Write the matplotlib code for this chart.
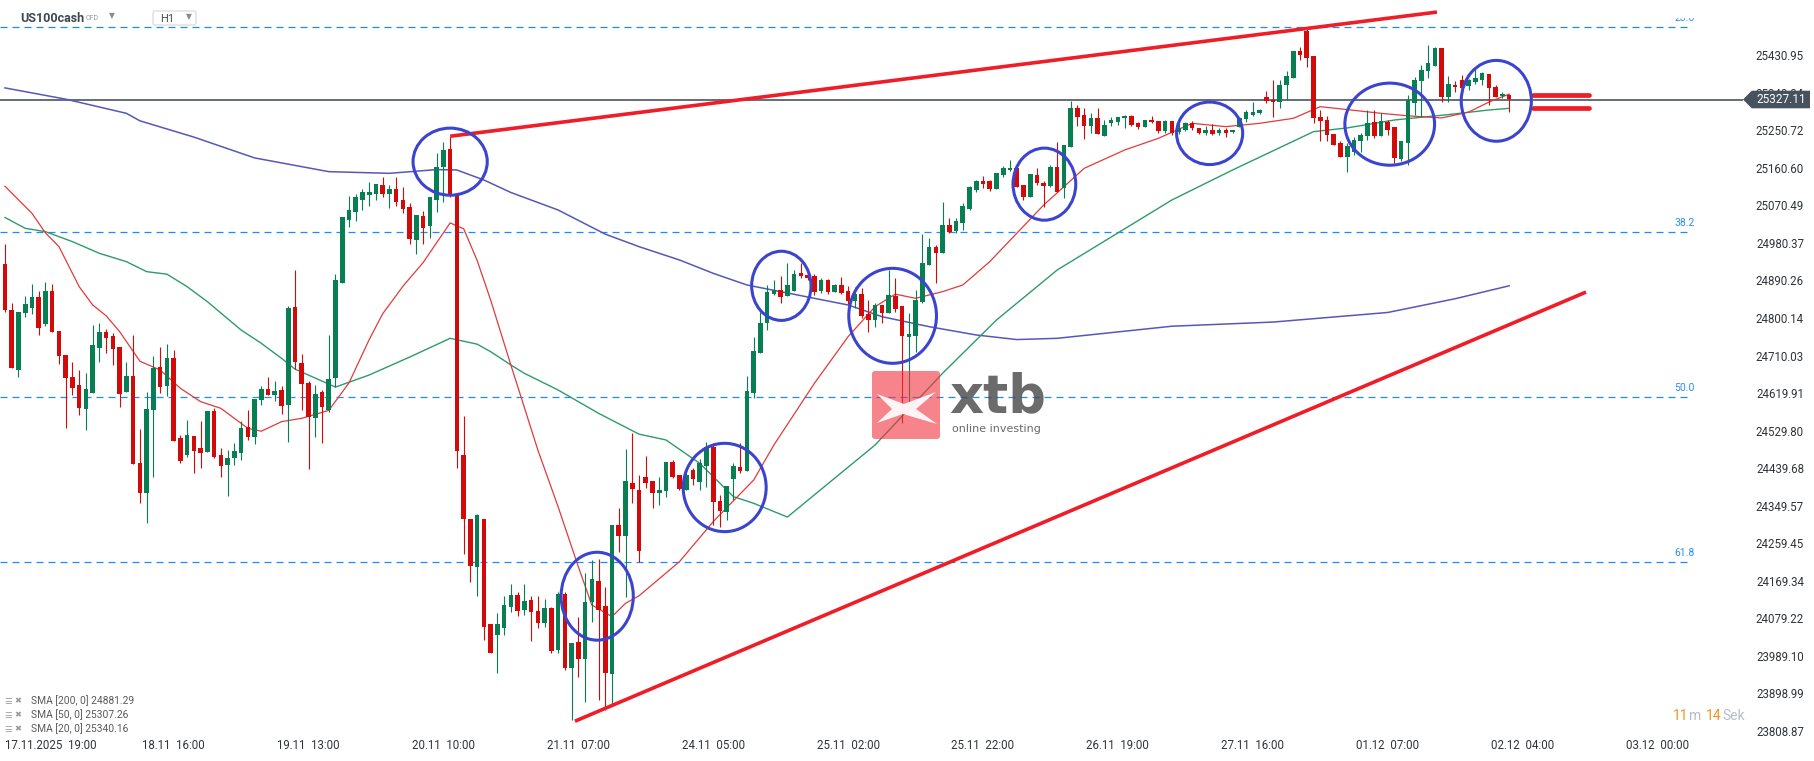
import numpy as np
import matplotlib
matplotlib.use("Agg")
import matplotlib.pyplot as plt
import matplotlib.transforms as mtransforms
from matplotlib.patches import Ellipse, Polygon, Rectangle, FancyBboxPatch

# ---- data (US100cash, H1) ----
first_bar = -5  # bar 0 = 17.11.2025 19:00

opens = [
    24933, 24824, 24680, 24816, 24828, 24854, 24790, 24868, 24772, 24715,
    24662, 24643, 24585, 24624, 24732, 24770, 24760, 24734, 24627, 24664,
    24456, 24384, 24584, 24686, 24641, 24708, 24516, 24475, 24520, 24492,
    24483, 24580, 24475, 24451, 24468, 24480, 24543, 24519, 24608, 24633,
    24619, 24631, 24595, 24830, 24696, 24648, 24563, 24627, 24582, 24660,
    24888, 25039, 25059, 25086, 25099, 25102, 25122, 25102, 25113, 25086,
    25070, 24991, 25048, 25025, 25086, 25167, 25210, 25099, 24474, 24322,
    24207, 24322, 24070, 24043, 24060, 24111, 24139, 24103, 24127, 24100,
    24071, 24108, 24007, 24141, 23963, 24026, 23985, 24121, 24173, 24113,
    23949, 24307, 24281, 24407, 24391, 24423, 24412, 24384, 24389, 24457,
    24427, 24391, 24439, 24411, 24449, 24495, 24364, 24339, 24417, 24445,
    24437, 24623, 24720, 24791, 24861, 24872, 24857, 24868, 24912, 24907,
    24905, 24868, 24895, 24867, 24883, 24868, 24845, 24861, 24813, 24799,
    24835, 24816, 24857, 24832, 24759, 24761, 24843, 24932, 24975, 24960,
    25028, 25013, 25032, 25065, 25110, 25132, 25132, 25113, 25148, 25158,
    25163, 25123, 25095, 25147, 25127, 25120, 25165, 25115, 25215, 25308,
    25291, 25264, 25283, 25241, 25272, 25274, 25283, 25288, 25271, 25263,
    25279, 25276, 25253, 25276, 25251, 25255, 25271, 25259, 25248, 25254,
    25247, 25254, 25249, 25263, 25281, 25291, 25295, 25334, 25327, 25323,
    25362, 25380, 25444, 25492, 25432, 25285, 25280, 25245, 25224, 25191,
    25203, 25228, 25240, 25273, 25241, 25274, 25261, 25185, 25224, 25320,
    25372, 25397, 25408, 25452, 25334, 25364, 25376, 25361, 25371, 25376,
    25389, 25358, 25336, 25339,
]
highs = [
    24981, 24839, 24817, 24856, 24885, 24868, 24890, 24885, 24772, 24715,
    24698, 24679, 24672, 24787, 24791, 24777, 24768, 24734, 24698, 24763,
    24537, 24625, 24712, 24734, 24741, 24727, 24523, 24559, 24520, 24556,
    24580, 24588, 24491, 24488, 24503, 24556, 24583, 24609, 24641, 24663,
    24653, 24640, 24833, 24918, 24717, 24652, 24643, 24632, 24762, 24909,
    25046, 25096, 25101, 25113, 25130, 25125, 25141, 25122, 25141, 25118,
    25080, 25050, 25060, 25094, 25200, 25225, 25238, 25099, 24569, 24322,
    24333, 24322, 24070, 24096, 24137, 24165, 24145, 24166, 24137, 24137,
    24129, 24110, 24145, 24145, 24023, 24085, 24191, 24223, 24225, 24159,
    24307, 24347, 24489, 24528, 24427, 24473, 24412, 24423, 24457, 24463,
    24427, 24439, 24443, 24465, 24505, 24503, 24379, 24400, 24455, 24503,
    24665, 24759, 24819, 24883, 24896, 24904, 24936, 24919, 24935, 24911,
    24910, 24899, 24898, 24885, 24903, 24881, 24877, 24875, 24847, 24839,
    24835, 24919, 24899, 24832, 24816, 24871, 25005, 24995, 24979, 25081,
    25044, 25044, 25079, 25120, 25135, 25144, 25136, 25151, 25169, 25184,
    25163, 25123, 25149, 25163, 25132, 25170, 25226, 25219, 25324, 25316,
    25308, 25295, 25308, 25280, 25287, 25287, 25292, 25292, 25274, 25279,
    25288, 25276, 25279, 25276, 25271, 25274, 25276, 25259, 25264, 25269,
    25259, 25259, 25256, 25287, 25303, 25321, 25306, 25348, 25375, 25375,
    25396, 25444, 25454, 25499, 25432, 25303, 25288, 25245, 25229, 25224,
    25238, 25247, 25304, 25303, 25296, 25279, 25261, 25229, 25339, 25381,
    25412, 25459, 25454, 25452, 25384, 25372, 25386, 25378, 25401, 25393,
    25389, 25362, 25346, 25341,
]
lows = [
    24818, 24684, 24663, 24807, 24813, 24763, 24785, 24771, 24694, 24539,
    24620, 24571, 24535, 24624, 24699, 24720, 24692, 24591, 24627, 24453,
    24360, 24311, 24423, 24624, 24617, 24509, 24455, 24471, 24432, 24443,
    24483, 24467, 24423, 24377, 24451, 24463, 24511, 24501, 24595, 24619,
    24605, 24574, 24506, 24681, 24582, 24441, 24519, 24503, 24577, 24638,
    24888, 25022, 25037, 25064, 25073, 25087, 25094, 25068, 25073, 25056,
    24982, 24958, 24982, 24996, 25058, 25083, 25094, 24444, 24237, 24169,
    24137, 24031, 24000, 23951, 24044, 24099, 24089, 24091, 24029, 24059,
    24061, 24000, 24000, 23960, 23839, 23941, 23883, 24075, 23887, 23863,
    23875, 24241, 24135, 24360, 24217, 24396, 24347, 24355, 24375, 24419,
    24392, 24391, 24403, 24391, 24399, 24307, 24303, 24319, 24367, 24432,
    24437, 24611, 24720, 24775, 24860, 24839, 24857, 24868, 24899, 24896,
    24859, 24864, 24862, 24865, 24861, 24837, 24827, 24803, 24769, 24783,
    24791, 24816, 24819, 24551, 24599, 24723, 24839, 24932, 24887, 24960,
    25007, 25007, 25016, 25063, 25107, 25115, 25108, 25113, 25142, 25157,
    25119, 25087, 25095, 25123, 25071, 25119, 25107, 25091, 25215, 25264,
    25233, 25248, 25245, 25241, 25264, 25267, 25259, 25264, 25257, 25263,
    25271, 25248, 25248, 25243, 25246, 25253, 25254, 25246, 25243, 25243,
    25243, 25239, 25248, 25263, 25274, 25289, 25293, 25319, 25286, 25307,
    25327, 25380, 25423, 25406, 25271, 25228, 25228, 25219, 25189, 25154,
    25196, 25201, 25232, 25235, 25241, 25243, 25175, 25180, 25172, 25291,
    25287, 25379, 25408, 25321, 25323, 25345, 25347, 25351, 25366, 25364,
    25316, 25333, 25331, 25298,
]
closes = [
    24823, 24684, 24817, 24837, 24854, 24780, 24868, 24771, 24713, 24660,
    24636, 24588, 24633, 24739, 24770, 24756, 24730, 24622, 24664, 24453,
    24384, 24585, 24684, 24639, 24708, 24509, 24461, 24523, 24484, 24479,
    24580, 24471, 24449, 24467, 24484, 24540, 24519, 24609, 24633, 24620,
    24629, 24593, 24828, 24698, 24645, 24565, 24621, 24589, 24657, 24895,
    25046, 25064, 25094, 25106, 25106, 25125, 25102, 25113, 25083, 25065,
    24994, 25050, 25020, 25094, 25167, 25208, 25099, 24484, 24322, 24209,
    24330, 24063, 24000, 24070, 24115, 24139, 24101, 24125, 24099, 24071,
    24108, 24005, 24141, 23964, 24023, 23985, 24121, 24177, 24103, 23951,
    24307, 24281, 24412, 24393, 24245, 24408, 24384, 24391, 24457, 24423,
    24393, 24427, 24417, 24455, 24495, 24361, 24340, 24400, 24448, 24436,
    24628, 24724, 24791, 24867, 24872, 24854, 24883, 24909, 24905, 24900,
    24867, 24895, 24867, 24883, 24864, 24845, 24861, 24809, 24799, 24835,
    24816, 24859, 24825, 24761, 24765, 24847, 24935, 24975, 24959, 25028,
    25011, 25036, 25072, 25117, 25132, 25125, 25113, 25151, 25163, 25163,
    25119, 25095, 25149, 25127, 25121, 25165, 25107, 25219, 25307, 25287,
    25264, 25283, 25245, 25267, 25279, 25285, 25288, 25268, 25263, 25279,
    25273, 25253, 25276, 25248, 25259, 25271, 25259, 25248, 25254, 25245,
    25254, 25247, 25254, 25284, 25297, 25297, 25304, 25324, 25321, 25364,
    25384, 25444, 25436, 25428, 25283, 25276, 25243, 25219, 25191, 25216,
    25232, 25243, 25271, 25240, 25276, 25254, 25187, 25229, 25327, 25376,
    25399, 25416, 25452, 25334, 25365, 25358, 25356, 25376, 25379, 25391,
    25355, 25334, 25341, 25329,
]

# moving averages, sampled off the lines (bar index, value)
sma200_at = [-5, 4, 13, 15, 23, 32, 43, 52, 59, 62, 66, 70, 77, 84, 89, 95, 100, 105,
             110, 115, 120, 125, 132, 139, 145, 151, 168, 183, 200, 210, 218]
sma200 = [25356, 25329, 25295, 25277, 25238, 25188, 25155, 25151, 25160, 25159,
          25135, 25105, 25063, 25005, 24975, 24943, 24911, 24883, 24867, 24851,
          24835, 24807, 24783, 24763, 24752, 24755, 24784, 24794, 24817, 24850, 24881]
sma50_at = [-5, -2, 1, 5, 9, 13, 16, 19, 22, 25, 30, 33, 36, 38, 44, 49, 55, 61, 65, 67,
            70, 72, 77, 83, 89, 93, 98, 103, 106, 111, 124, 134, 142, 151, 168, 177,
            186, 189, 194, 201, 209, 215, 218]
sma50 = [25045, 25019, 25011, 24987, 24959, 24939, 24915, 24909, 24879, 24843,
         24775, 24743, 24707, 24681, 24638, 24667, 24710, 24755, 24741, 24723,
         24691, 24671, 24631, 24575, 24525, 24511, 24455, 24375, 24359, 24326,
         24499, 24671, 24799, 24919, 25087, 25159, 25228, 25251, 25260, 25279,
         25292, 25303, 25307]
sma20_at = [-5, -1, 1, 3, 6, 8, 10, 12, 15, 18, 21, 24, 27, 31, 33, 36, 39, 43, 46, 49,
            51, 54, 57, 61, 63, 65, 67, 70, 74, 77, 80, 82, 85, 87, 89, 95, 100, 106,
            109, 115, 120, 124, 127, 130, 134, 137, 141, 145, 149, 155, 161, 166, 171,
            176, 181, 186, 190, 194, 199, 203, 208, 212, 215, 218]
sma20 = [25120, 25055, 25008, 24975, 24879, 24835, 24809, 24771, 24700, 24679,
         24635, 24603, 24587, 24539, 24532, 24555, 24563, 24582, 24648, 24752,
         24814, 24880, 24937, 25032, 25018, 24942, 24847, 24691, 24487, 24351,
         24207, 24115, 24087, 24119, 24137, 24219, 24315, 24415, 24499, 24647,
         24759, 24831, 24861, 24851, 24867, 24883, 24939, 25007, 25075, 25163,
         25207, 25235, 25271, 25263, 25271, 25283, 25311, 25304, 25295, 25289,
         25284, 25298, 25322, 25341]

legend_rows = ["SMA [200, 0] 24881.29", "SMA [50, 0] 25307.26", "SMA [20, 0] 25340.16"]
last_price = 25327.11
fib_names = ["23.6", "38.2", "50.0", "61.8"]
fib_levels = [25502, 25011, 24615, 24219]

price_ticks = ["25430.95", "25340.84", "25250.72", "25160.60", "25070.49", "24980.37",
               "24890.26", "24800.14", "24710.03", "24619.91", "24529.80", "24439.68",
               "24349.57", "24259.45", "24169.34", "24079.22", "23989.10", "23898.99",
               "23808.87"]
date_ticks = ["17.11.2025  19:00", "18.11  16:00", "19.11  13:00", "20.11  10:00",
              "21.11  07:00", "24.11  05:00", "25.11  02:00", "25.11  22:00",
              "26.11  19:00", "27.11  16:00", "01.12  07:00", "02.12  04:00",
              "03.12  00:00"]
bars_per_date = 20

# drawings on the chart (bar index, price)
upper_trend = ([61.0, 207.3], [25240, 25538])
lower_trend = ([79.5, 229.4], [23836, 24866])
marker_span = [221.5, 229.8]
marker_levels = [25340.16, 25307.26]
# circles: centre bar, centre price, width (bars), height (points)
circles = [
    (61.0, 25179, 11.0, 161),
    (82.8, 24136, 10.7, 211),
    (101.7, 24397, 12.3, 212),
    (110.1, 24881, 8.8, 166),
    (126.6, 24809, 13.0, 228),
    (149.1, 25125, 9.3, 173),
    (173.6, 25247, 9.8, 150),
    (200.3, 25269, 13.3, 197),
    (216.1, 25325, 10.4, 194),
]

GREEN = "#087f52"
RED = "#d30a0a"
W, H = 1815, 761

plt.rcParams['font.family'] = ['Roboto', 'DejaVu Sans']

fig = plt.figure(figsize=(W / 100, H / 100), dpi=100)
fig.patch.set_facecolor("white")
ax = fig.add_axes([0, 0, 1, 1])
x_lo, x_hi = -5.74, 263.35
ax.set_xlim(x_lo, x_hi)
ax.set_ylim(23740.5, 25567.0)
ax.axis('off')

# pixel coords (origin top-left) for the screen furniture
px = mtransforms.Affine2D().scale(1 / W, -1 / H).translate(0, 1) + fig.transFigure
right_lab = mtransforms.blended_transform_factory(ax.transAxes, ax.transData)
bottom_lab = mtransforms.blended_transform_factory(ax.transData, ax.transAxes)

# fibonacci levels
ax.hlines(fib_levels, x_lo, 244.8, colors="#1a8cff", linestyles=(0, (5.6, 4.0)),
          lw=0.9, zorder=1)
for name, lvl in zip(fib_names, fib_levels):
    ax.text(244.0, lvl + 9, name, color="#2a8df0", fontsize=7.5, ha='center',
            va='bottom', zorder=2)
# top of the chart pane cuts the 23.6 label
ax.add_patch(Rectangle((1640, 0), 80, 17, transform=px, color="white", zorder=2.5))

# current price line
ax.hlines(last_price, x_lo, 252.7, colors="#3c4650", lw=1.1, zorder=2)

# moving averages
ax.plot(sma200_at, sma200, color="#5558b9", lw=1.1, zorder=2)
ax.plot(sma50_at, sma50, color="#2f9a6c", lw=1.0, zorder=2)
ax.plot(sma20_at, sma20, color="#e23a3a", lw=0.9, zorder=2)

# candles
bars = np.arange(first_bar, first_bar + len(closes))
o = np.array(opens, float)
c = np.array(closes, float)
cols = np.where(c >= o, GREEN, RED)
ax.vlines(bars, lows, highs, colors=cols, lw=0.8, zorder=3)
ax.bar(bars, np.maximum(np.abs(c - o), 2.4), bottom=np.minimum(o, c), width=0.68,
       color=cols, linewidth=0, zorder=4)

# trend lines and markers
ax.plot(*upper_trend, color="#ee1d27", lw=2.6, solid_capstyle='butt', zorder=6)
ax.plot(*lower_trend, color="#ee1d27", lw=2.6, solid_capstyle='butt', zorder=6)
for lvl in marker_levels:
    ax.plot(marker_span, [lvl, lvl], color="#ee1d27", lw=3.4,
            solid_capstyle='round', zorder=6)

for cx, cy, w, h in circles:
    ax.add_patch(Ellipse((cx, cy), w, h, fill=False, ec="#3b44cf", lw=2.2, zorder=7))

# xtb watermark
ax.add_patch(FancyBboxPatch((872, 371), 68, 68, boxstyle="round,pad=0,rounding_size=3",
                            transform=px, fc="#f2333d", ec="none", alpha=0.6, zorder=8))
ax.add_patch(Polygon([(877, 394), (904, 404), (936, 392), (916, 409), (937, 424),
                      (903, 414), (877, 423), (892, 409)], closed=True,
                     transform=px, fc="white", ec="none", alpha=0.92, zorder=8.5))
ax.text(949, 397, "xtb", transform=px, family="DejaVu Sans", fontweight='bold',
        fontsize=38, color="#4a4a4a", alpha=0.82, va='center', ha='left', zorder=8)
ax.text(952, 429, "online investing", transform=px, family="DejaVu Sans", fontsize=8,
        color="#4a4a4a", alpha=0.82, va='center', ha='left', zorder=8)

# right price scale (the 25340.84 label sits under the price tag)
for lab in price_ticks:
    ax.text(1780 / W, float(lab), lab, transform=right_lab, fontsize=8.3,
            color="#2f3438", ha='center', va='center', zorder=9)
ax.add_patch(Polygon([(1743, 99.5), (1751.7, 90.7), (1810, 90.7), (1810, 108.3),
                      (1751.7, 108.3)], closed=True, transform=px, fc="#46535e",
                     ec="none", zorder=10))
ax.text(1781, 99.8, f"{last_price:.2f}", transform=px, color="white", fontsize=8.5,
        ha='center', va='center', zorder=11)

# time scale
for k, lab in enumerate(date_ticks):
    if k == 0:
        ax.text(x_lo + 0.8, 0.021, lab, transform=bottom_lab, fontsize=8.3,
                color="#2f3438", ha='left', va='center')
    else:
        ax.text(k * bars_per_date, 0.021, lab, transform=bottom_lab, fontsize=8.3,
                color="#2f3438", ha='center', va='center')

# indicator legend
for r, lab in enumerate(legend_rows):
    y = 701 + 14 * r
    ax.text(4, y, "\u2630", transform=px, fontsize=6, color="#9a9a9a",
            va='center', ha='left', family="DejaVu Sans")
    ax.text(14, y, "\u2716", transform=px, fontsize=6, color="#9a9a9a",
            va='center', ha='left', family="DejaVu Sans")
    ax.text(31, y, lab, transform=px, fontsize=7.4, color="#5a5a5a",
            va='center', ha='left')

# candle countdown
for xp, s, col in [(1673, "11", "#f6931d"), (1689, "m", "#b9bdc1"),
                   (1706, "14", "#f6931d"), (1722, "Sek", "#b9bdc1")]:
    ax.text(xp, 716, s, transform=px, fontsize=10, color=col, va='center', ha='left')

# header
ax.text(20, 18, "US100cash", transform=px, fontsize=9, fontweight='bold',
        color="#3d4852", va='center', ha='left')
ax.text(86, 19, "CFD", transform=px, fontsize=5, color="#9a9a9a", va='center', ha='left')
ax.text(112, 16, "\u25BC", transform=px, fontsize=5.5, color="#8a8a8a", va='center',
        ha='center', family="DejaVu Sans")
ax.add_patch(FancyBboxPatch((153, 11), 43, 14, boxstyle="round,pad=0,rounding_size=2",
                            transform=px, fc="white", ec="#d3d7db", lw=0.8, zorder=9))
ax.text(160, 19, "H1", transform=px, fontsize=8, color="#444a50", va='center',
        ha='left', zorder=10)
ax.text(189, 16.5, "\u25BC", transform=px, fontsize=5.5, color="#8a8a8a", va='center',
        ha='center', family="DejaVu Sans", zorder=10)

fig.savefig("out.png", dpi=100, facecolor="white")
